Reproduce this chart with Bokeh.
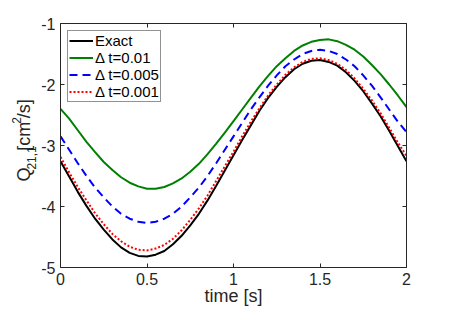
from bokeh.plotting import figure
from bokeh.models import LinearAxis, FixedTicker, Range1d, CustomJSTickFormatter
from bokeh.layouts import row
from bokeh.core.properties import value
from bokeh.embed import file_html
from bokeh.resources import INLINE
import math

# ---- data ----
t = [0.0, 0.05, 0.1, 0.15, 0.2, 0.25, 0.3, 0.35, 0.4, 0.45, 0.5, 0.55, 0.6, 0.65, 0.7,
     0.75, 0.8, 0.85, 0.9, 0.95, 1.0, 1.05, 1.1, 1.15, 1.2, 1.25, 1.3, 1.35, 1.4, 1.45,
     1.5, 1.55, 1.6, 1.65, 1.7, 1.75, 1.8, 1.85, 1.9, 1.95, 2.0]
exact = [-3.26, -3.51, -3.76, -3.99, -4.20, -4.38, -4.54, -4.67, -4.76, -4.81, -4.82,
         -4.79, -4.73, -4.62, -4.48, -4.31, -4.12, -3.90, -3.66, -3.41, -3.16,
         -2.91, -2.67, -2.43, -2.22, -2.04, -1.88, -1.75, -1.66, -1.61, -1.60,
         -1.63, -1.69, -1.80, -1.94, -2.11, -2.31, -2.52, -2.76, -3.01, -3.26]
dt_001 = [-2.40, -2.56, -2.75, -2.94, -3.11, -3.27, -3.40, -3.52, -3.61, -3.67, -3.71,
          -3.71, -3.68, -3.62, -3.54, -3.43, -3.30, -3.14, -2.97, -2.79, -2.60,
          -2.41, -2.22, -2.03, -1.86, -1.70, -1.57, -1.45, -1.36, -1.30, -1.27,
          -1.26, -1.29, -1.35, -1.43, -1.54, -1.68, -1.83, -2.00, -2.18, -2.37]
dt_0005 = [-2.85, -3.07, -3.29, -3.50, -3.69, -3.85, -4.00, -4.12, -4.20, -4.25, -4.27,
           -4.25, -4.20, -4.12, -4.00, -3.85, -3.69, -3.50, -3.29, -3.07, -2.85,
           -2.63, -2.41, -2.21, -2.02, -1.85, -1.70, -1.59, -1.50, -1.45, -1.43,
           -1.45, -1.50, -1.59, -1.70, -1.85, -2.02, -2.21, -2.41, -2.61, -2.78]
dt_0001 = [-3.19, -3.44, -3.68, -3.90, -4.11, -4.29, -4.45, -4.57, -4.66, -4.71, -4.72,
           -4.69, -4.63, -4.53, -4.39, -4.22, -4.03, -3.82, -3.58, -3.34, -3.10,
           -2.85, -2.61, -2.39, -2.18, -2.00, -1.84, -1.72, -1.63, -1.58, -1.57,
           -1.60, -1.66, -1.76, -1.90, -2.07, -2.26, -2.47, -2.71, -2.95, -3.17]

series_labels = ["Exact", "\u0394 t=0.01", "\u0394 t=0.005", "\u0394 t=0.001"]
xticks = [0.0, 0.5, 1.0, 1.5, 2.0]
xtick_labels = ["0", "0.5", "1", "1.5", "2"]
yticks = [-5, -4, -3, -2, -1]
ytick_labels = ["-5", "-4", "-3", "-2", "-1"]
x_label = "time [s]"
# y label pieces: main text, subscript, main, superscript, main
y_label_parts = ["Q", "21,1", " [cm", "2", "/s]"]

FONT = "Liberation Sans"
AX = "#262626"
H = 309
LW = 38

p = figure(width=449 - LW, height=H, output_backend="svg", toolbar_location=None,
           x_range=Range1d(0, 2), y_range=Range1d(-5, -1),
           min_border_left=20, min_border_right=43, min_border_top=23, min_border_bottom=42,
           x_axis_location=None, y_axis_location=None)
p.background_fill_color = "white"
p.border_fill_color = "white"
p.outline_line_color = None
p.xgrid.visible = False
p.ygrid.visible = False

def style(ax, labels):
    ax.axis_line_color = AX
    ax.major_tick_line_color = AX
    ax.major_tick_in = 4
    ax.major_tick_out = 0
    ax.minor_tick_in = 0
    ax.minor_tick_out = 0
    ax.minor_tick_line_color = None
    ax.major_label_text_color = AX
    ax.major_label_text_font = FONT
    if labels:
        ax.major_label_text_font_size = "16px"
    else:
        ax.major_label_text_font_size = "0px"
        ax.major_label_standoff = 0
        ax.formatter = CustomJSTickFormatter(code="return ''")

xb = LinearAxis(ticker=FixedTicker(ticks=xticks),
                major_label_overrides=dict(zip(xticks, xtick_labels)))
style(xb, True)
xb.major_label_standoff = 5
xb.axis_label = x_label
xb.axis_label_text_font = FONT
xb.axis_label_text_font_size = "18px"
xb.axis_label_text_font_style = "normal"
xb.axis_label_text_color = AX
xb.axis_label_standoff = -2
p.add_layout(xb, "below")

yl = LinearAxis(ticker=FixedTicker(ticks=yticks),
                major_label_overrides=dict(zip(yticks, ytick_labels)))
style(yl, True)
yl.major_label_standoff = 5
p.add_layout(yl, "left")

xt = LinearAxis(ticker=FixedTicker(ticks=xticks))
style(xt, False)
p.add_layout(xt, "above")
yr = LinearAxis(ticker=FixedTicker(ticks=yticks))
style(yr, False)
p.add_layout(yr, "right")

p.line(t, exact, line_color="black", line_width=2, legend_label=series_labels[0])
p.line(t, dt_001, line_color="#008000", line_width=2, legend_label=series_labels[1])
p.line(t, dt_0005, line_color="#0000ff", line_width=2, line_dash="8 5",
       legend_label=series_labels[2])
p.line(t, dt_0001, line_color="#ff0000", line_width=2, line_dash="2 2",
       legend_label=series_labels[3])

lg = p.legend[0]
lg.location = "top_left"
lg.margin = 7
lg.padding = 1
lg.spacing = -1
lg.glyph_width = 24
lg.glyph_height = 15
lg.label_height = 15
lg.label_standoff = 2
lg.label_text_font = FONT
lg.label_text_font_size = "15px"
lg.label_text_color = "black"
lg.border_line_color = AX
lg.border_line_width = 1
lg.background_fill_color = "white"
lg.background_fill_alpha = 1.0

# narrow panel on the left carrying the rotated y-axis label (pixel coordinates)
lf = figure(width=LW, height=H, output_backend="svg", toolbar_location=None,
            x_range=Range1d(0, LW), y_range=Range1d(0, H),
            min_border_left=0, min_border_right=0, min_border_top=0, min_border_bottom=0,
            x_axis_location=None, y_axis_location=None)
lf.outline_line_color = None
lf.xgrid.visible = False
lf.ygrid.visible = False
lf.background_fill_color = "white"
lf.border_fill_color = "white"

ang = math.pi / 2
piece_pos = [(23, 109, "18px"), (31, 124, "12px"), (23, 148, "18px"),
             (16, 182, "12px"), (23, 189, "18px")]
for txt, (x, y, fs) in zip(y_label_parts, piece_pos):
    lf.text(x=[x], y=[y], text=[txt], angle=ang, text_font=value(FONT),
            text_font_size=fs, text_color=AX, text_align="left",
            text_baseline="alphabetic")

open("out.html", "w").write(file_html(row(lf, p), INLINE))
